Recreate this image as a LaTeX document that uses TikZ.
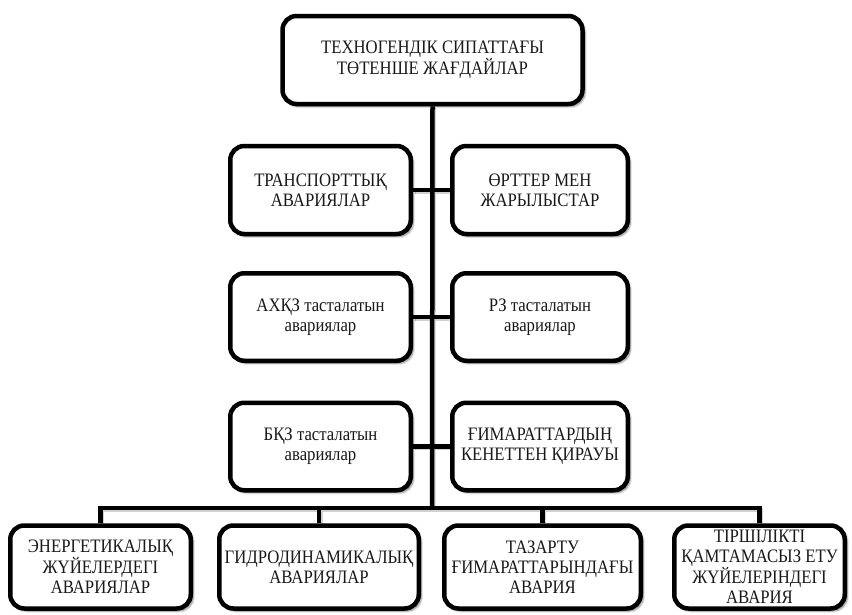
\documentclass[tikz,border=0pt]{standalone}
\usepackage{fontspec}
\setmainfont{Liberation Serif}[FakeStretch=0.88]
\usetikzlibrary{shadows.blur,backgrounds}

\tikzset{
  box/.style={draw=black, line width=4.5pt, rounded corners=14pt, fill=white,
    align=center, inner sep=0pt, text=black!90,
    font=\fontsize{19}{19.8}\selectfont,
    blur shadow={shadow xshift=2.5pt, shadow yshift=-2.5pt,
      shadow blur radius=2pt, shadow blur steps=6, shadow opacity=50}},
  link/.style={draw=black, line width=4.5pt, line join=miter},
  linkshade/.style={draw=black!18, line width=4pt, line join=miter}
}

\begin{document}
\begin{tikzpicture}[x=1pt,y=-1pt]
\useasboundingbox (0,0) rectangle (852,614);

% root
\node[box, minimum width=300pt, minimum height=88pt] (top) at (432.5,60)
  {ТЕХНОГЕНДІК СИПАТТАҒЫ\\ТӨТЕНШЕ ЖАҒДАЙЛАР};

% paired branches along the trunk
\node[box, minimum width=180.5pt, minimum height=88pt] (l1) at (320.5,190)
  {ТРАНСПОРТТЫҚ\\АВАРИЯЛАР};
\node[box, minimum width=175.5pt, minimum height=88pt] (r1) at (540,190)
  {ӨРТТЕР МЕН\\ЖАРЫЛЫСТАР};

\node[box, minimum width=180.5pt, minimum height=87.5pt] (l2) at (320.5,317)
  {АХҚЗ тасталатын\\авариялар};
\node[box, minimum width=175.5pt, minimum height=87.5pt] (r2) at (540,317)
  {РЗ тасталатын\\авариялар};

\node[box, minimum width=180.5pt, minimum height=87.5pt] (l3) at (320.5,446.5)
  {БҚЗ тасталатын\\авариялар};
\node[box, minimum width=175.5pt, minimum height=87.5pt] (r3) at (540,446.5)
  {ҒИМАРАТТАРДЫҢ\\КЕНЕТТЕН ҚИРАУЫ};

% bottom row
\node[box, minimum width=180.5pt, minimum height=83pt] (b1) at (100.5,567)
  {ЭНЕРГЕТИКАЛЫҚ\\ЖҮЙЕЛЕРДЕГІ\\АВАРИЯЛАР};
\node[box, minimum width=199.5pt, minimum height=83pt] (b2) at (319,567)
  {ГИДРОДИНАМИКАЛЫҚ\\АВАРИЯЛАР};
\node[box, minimum width=196.5pt, minimum height=83pt] (b3) at (542.5,567)
  {ТАЗАРТУ\\ҒИМАРАТТАРЫНДАҒЫ\\АВАРИЯ};
\node[box, minimum width=170.5pt, minimum height=83pt] (b4) at (759.5,567)
  {ТІРШІЛІКТІ\\ҚАМТАМАСЫЗ ЕТУ\\ЖҮЙЕЛЕРІНДЕГІ\\АВАРИЯ};

\coordinate (bus) at (432,508);

\begin{scope}[on background layer]
  % soft shade under the connectors
  \begin{scope}[transform canvas={xshift=1.5pt,yshift=-1.5pt}]
    \draw[linkshade] (top.south) -- (bus);
    \draw[linkshade] (l1.east) -- (r1.west);
    \draw[linkshade] (l2.east) -- (r2.west);
    \draw[linkshade] (l3.east) -- (r3.west);
    \draw[linkshade] (b1.north) |- (bus);
    \draw[linkshade] (b4.north) |- (bus);
    \draw[linkshade] (b2.north) -- (b2.north |- bus);
    \draw[linkshade] (b3.north) -- (b3.north |- bus);
  \end{scope}
  % trunk, cross links and bus
  \draw[link] (top.south) -- (bus);
  \draw[link] (l1.east) -- (r1.west);
  \draw[link] (l2.east) -- (r2.west);
  \draw[link] (l3.east) -- (r3.west);
  \draw[link] (b1.north) |- (bus);
  \draw[link] (b4.north) |- (bus);
  \draw[link] (b2.north) -- (b2.north |- bus);
  \draw[link] (b3.north) -- (b3.north |- bus);
\end{scope}
\end{tikzpicture}
\end{document}
